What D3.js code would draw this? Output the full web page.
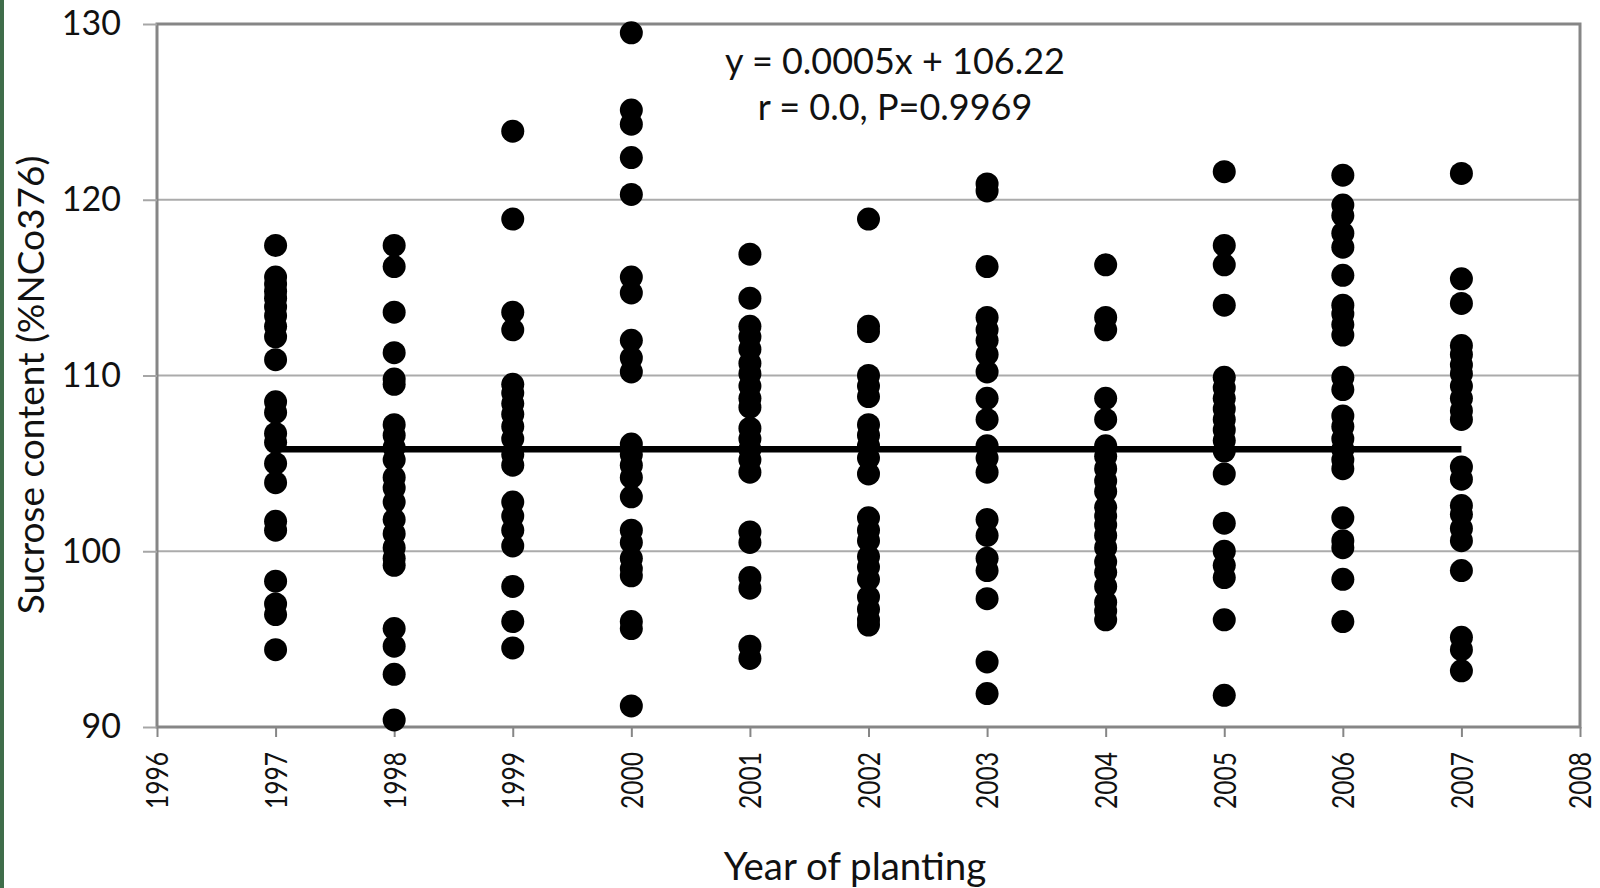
<!DOCTYPE html>
<html>
<head>
<meta charset="utf-8">
<script src="https://cdn.jsdelivr.net/npm/d3@7"></script>
<style>
  html, body { margin: 0; padding: 0; background: #fff; }
  svg { display: block; }
  text { font-family: Lato, "Open Sans", sans-serif; fill: #111; }
</style>
</head>
<body>
<svg id="chart" width="1600" height="888"></svg>
<script>
// Sucrose content (% of NCo376) by year of planting
const years = [1997, 1998, 1999, 2000, 2001, 2002, 2003, 2004, 2005, 2006, 2007];

const sucrose1997 = [117.4, 115.6, 115.2, 114.8, 114.4, 113.9, 113.4, 112.8, 112.2, 110.9, 108.5, 107.9, 106.7, 106.2, 105.0, 103.9, 101.7, 101.2, 98.3, 97.0, 96.4, 94.4];
const sucrose1998 = [117.4, 116.2, 113.6, 111.3, 109.8, 109.5, 107.2, 106.6, 105.9, 105.2, 104.2, 103.6, 102.8, 101.8, 101.0, 100.2, 99.6, 99.2, 95.6, 94.6, 93.0, 90.4];
const sucrose1999 = [123.9, 118.9, 113.6, 112.6, 109.5, 109.0, 108.4, 107.8, 107.1, 106.4, 105.5, 104.9, 102.8, 102.0, 101.2, 100.3, 98.0, 96.0, 94.5];
const sucrose2000 = [129.5, 125.1, 124.3, 122.4, 120.3, 115.6, 114.7, 112.0, 111.0, 110.2, 106.1, 105.5, 104.9, 104.2, 103.1, 101.2, 100.5, 99.6, 99.0, 98.6, 96.0, 95.6, 91.2];
const sucrose2001 = [116.9, 114.4, 112.8, 112.2, 111.5, 110.7, 110.1, 109.4, 108.7, 108.2, 107.0, 106.4, 105.8, 105.2, 104.5, 101.1, 100.5, 98.5, 97.9, 94.6, 93.9];
const sucrose2002 = [118.9, 112.8, 112.5, 110.0, 109.4, 108.8, 107.2, 106.6, 106.0, 105.3, 104.4, 101.9, 101.2, 100.6, 99.7, 99.1, 98.4, 97.4, 96.7, 96.1, 95.8];
const sucrose2003 = [120.9, 120.5, 116.2, 113.3, 112.6, 112.0, 111.2, 110.2, 108.7, 107.5, 106.0, 105.3, 104.5, 101.8, 100.9, 99.6, 98.9, 97.3, 93.7, 91.9];
const sucrose2004 = [116.3, 113.3, 112.6, 108.7, 107.5, 106.0, 105.4, 104.7, 104.0, 103.4, 102.5, 102.0, 101.5, 100.9, 100.2, 99.4, 98.8, 98.0, 97.1, 96.6, 96.1];
const sucrose2005 = [121.6, 117.4, 116.3, 114.0, 109.9, 109.3, 108.7, 108.1, 107.5, 106.9, 106.3, 105.7, 104.4, 101.6, 100.0, 99.2, 98.5, 96.1, 91.8];
const sucrose2006 = [121.4, 119.7, 119.1, 118.1, 117.3, 115.7, 114.0, 113.5, 112.9, 112.3, 109.9, 109.2, 107.7, 107.1, 106.4, 105.8, 105.2, 104.7, 101.9, 100.6, 100.2, 98.4, 96.0];
const sucrose2007 = [121.5, 115.5, 114.1, 111.7, 111.2, 110.6, 110.1, 109.4, 108.7, 108.0, 107.5, 104.8, 104.1, 102.6, 102.1, 101.3, 100.6, 98.9, 95.1, 94.4, 93.2];

const sucroseByYear = [sucrose1997, sucrose1998, sucrose1999, sucrose2000, sucrose2001, sucrose2002,
                       sucrose2003, sucrose2004, sucrose2005, sucrose2006, sucrose2007];

// Fitted line end points (year, sucrose)
const trendYears = [1997, 2007];
const trendValues = [105.8, 105.8];

const xTicks = [1996, 1997, 1998, 1999, 2000, 2001, 2002, 2003, 2004, 2005, 2006, 2007, 2008];
const yTicks = [90, 100, 110, 120, 130];

const equationLines = ["y = 0.0005x + 106.22", "r = 0.0, P=0.9969"];
const xTitle = "Year of planting";
const yTitle = "Sucrose content (%NCo376)";

const points = [];
years.forEach((yr, i) => sucroseByYear[i].forEach(v => points.push({ year: yr, value: v })));

const svg = d3.select("#chart");
const margin = { left: 157, right: 20, top: 24, bottom: 161 };
const W = 1600, H = 888;

const x = d3.scaleLinear().domain([1996, 2008]).range([margin.left, W - margin.right]);
const y = d3.scaleLinear().domain([90, 130]).range([H - margin.bottom, margin.top]);

// thin slide border on the far left
svg.append("rect").attr("x", 0).attr("y", 0).attr("width", 4).attr("height", H).attr("fill", "#3f6d4a");

// horizontal gridlines
svg.append("g").selectAll("line").data(yTicks.filter(t => t > 90 && t < 130)).join("line")
  .attr("x1", x(1996)).attr("x2", x(2008))
  .attr("y1", d => y(d)).attr("y2", d => y(d))
  .attr("stroke", "#ababab").attr("stroke-width", 2);

// plot frame
svg.append("rect")
  .attr("x", x(1996)).attr("y", y(130))
  .attr("width", x(2008) - x(1996)).attr("height", y(90) - y(130))
  .attr("fill", "none").attr("stroke", "#868686").attr("stroke-width", 3);

// y axis
const yAxis = d3.axisLeft(y).tickValues(yTicks).tickSize(14).tickPadding(22).tickFormat(d3.format("d"));
const gy = svg.append("g").attr("transform", `translate(${x(1996)},0)`).call(yAxis);
gy.select(".domain").remove();
gy.selectAll(".tick line").attr("stroke", "#a6a6a6").attr("stroke-width", 2);
gy.selectAll(".tick text").attr("font-size", 34).attr("fill", "#111")
  .attr("font-family", "Lato, sans-serif");

// x axis (labels turned vertical)
const xAxis = d3.axisBottom(x).tickValues(xTicks).tickSize(10).tickFormat(d3.format("d"));
const gx = svg.append("g").attr("transform", `translate(0,${y(90)})`).call(xAxis);
gx.select(".domain").remove();
gx.selectAll(".tick line").attr("stroke", "#868686").attr("stroke-width", 2);
gx.selectAll(".tick text")
  .attr("font-size", 31).attr("fill", "#111").attr("font-family", "Lato, sans-serif")
  .attr("transform", "rotate(-90)")
  .attr("text-anchor", "end").attr("dy", "0.35em")
  .attr("x", -25).attr("y", 0)
  .attr("textLength", 57).attr("lengthAdjust", "spacingAndGlyphs");

// data points
svg.append("g").selectAll("circle").data(points).join("circle")
  .attr("cx", d => x(d.year)).attr("cy", d => y(d.value))
  .attr("r", 11.5).attr("fill", "#000");

// fitted line
const line = d3.line().x(d => x(d[0])).y(d => y(d[1]));
svg.append("path")
  .datum(trendYears.map((t, i) => [t, trendValues[i]]))
  .attr("d", line).attr("stroke", "#000").attr("stroke-width", 6.5).attr("fill", "none");

// regression equation
svg.append("g").selectAll("text").data(equationLines).join("text")
  .attr("x", 895).attr("y", (d, i) => 74 + i * 46)
  .attr("text-anchor", "middle").attr("font-size", 36).text(d => d);

// axis titles
svg.append("text").attr("x", 855).attr("y", 880).attr("text-anchor", "middle")
  .attr("font-size", 38.5).text(xTitle);
svg.append("text").attr("transform", `translate(44,${385}) rotate(-90)`)
  .attr("text-anchor", "middle").attr("font-size", 37).text(yTitle);
</script>
</body>
</html>
